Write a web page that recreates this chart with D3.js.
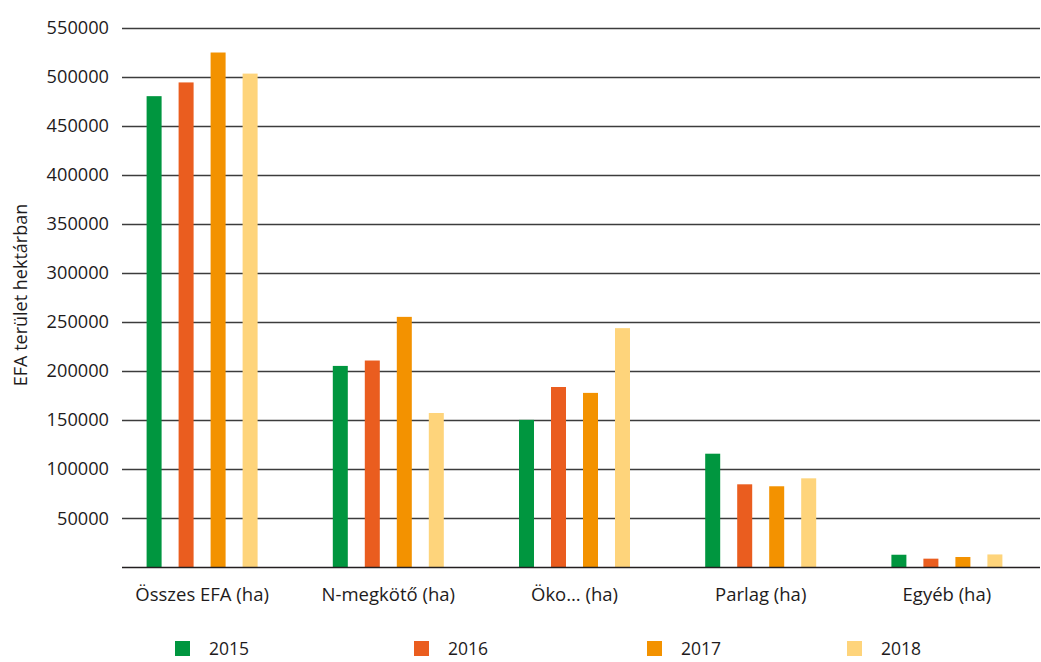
<!DOCTYPE html>
<html>
<head>
<meta charset="utf-8">
<script src="https://cdn.jsdelivr.net/npm/d3@7"></script>
<style>
  body { margin: 0; background: #fff; }
  text { font-family: "Open Sans", "Noto Sans", sans-serif; fill: #1e1b1c; }
</style>
</head>
<body>
<div id="chart-area"></div>
<script>
// Data
let categories = ["Összes EFA (ha)", "N-megkötő (ha)", "Öko… (ha)", "Parlag (ha)", "Egyéb (ha)"];
let years = ["2015", "2016", "2017", "2018"];
let values2015 = [480000, 205000, 150000, 115500, 12500];
let values2016 = [494000, 210500, 183500, 84300, 8500];
let values2017 = [524500, 255000, 177500, 82300, 10200];
let values2018 = [503000, 157000, 243500, 90400, 12800];
let yTicks = [50000, 100000, 150000, 200000, 250000, 300000, 350000, 400000, 450000, 500000, 550000];
let colors = ["#00963f", "#ea5d1f", "#f39200", "#fed47b"];

let series = [values2015, values2016, values2017, values2018];

let width = 1041, height = 662;

let svg = d3.select("#chart-area").append("svg")
    .attr("width", width)
    .attr("height", height);

// Scales
let y = d3.scaleLinear()
    .domain([0, 550000])
    .range([567, 27.5]);

let x0 = d3.scaleBand()
    .domain(categories)
    .range([109, 1040]);

let bw = x0.bandwidth();
let x1 = d3.scaleBand()
    .domain(years)
    .range([bw / 2 - 55.5, bw / 2 + 55.5])
    .paddingInner(17 / 32);

let color = d3.scaleOrdinal()
    .domain(years)
    .range(colors);

// Gridlines
svg.append("g")
    .selectAll("line")
    .data(yTicks)
    .enter().append("line")
    .attr("x1", 122)
    .attr("x2", 1040)
    .attr("y1", d => Math.round(y(d)) + 0.5)
    .attr("y2", d => Math.round(y(d)) + 0.5)
    .attr("stroke", "#3c3c3c")
    .attr("stroke-width", 1.3);

// Y tick labels
svg.append("g")
    .selectAll("text")
    .data(yTicks)
    .enter().append("text")
    .attr("x", 109)
    .attr("y", d => y(d))
    .attr("dy", "0.36em")
    .attr("text-anchor", "end")
    .attr("font-size", 18.2)
    .text(d => d);

// Bars
let groups = svg.append("g")
    .selectAll("g")
    .data(categories)
    .enter().append("g")
    .attr("transform", d => "translate(" + x0(d) + ",0)");

groups.selectAll("rect")
    .data((d, i) => years.map((yr, j) => ({year: yr, value: series[j][i]})))
    .enter().append("rect")
    .attr("x", d => x1(d.year))
    .attr("width", x1.bandwidth())
    .attr("y", d => y(d.value))
    .attr("height", d => y(0) - y(d.value))
    .attr("fill", d => color(d.year));

// X axis line
svg.append("line")
    .attr("x1", 122)
    .attr("x2", 1040)
    .attr("y1", 567.5)
    .attr("y2", 567.5)
    .attr("stroke", "#231f20")
    .attr("stroke-width", 1.3);

// Category labels
svg.append("g")
    .selectAll("text")
    .data(categories)
    .enter().append("text")
    .attr("x", d => x0(d) + bw / 2)
    .attr("y", 601)
    .attr("text-anchor", "middle")
    .attr("font-size", 18.5)
    .text(d => d);

// Y axis title
svg.append("text")
    .attr("transform", "translate(27,295) rotate(-90)")
    .attr("text-anchor", "middle")
    .attr("font-size", 18)
    .text("EFA terület hektárban");

// Legend
let legendX = [175, 414, 647, 847];
let legend = svg.append("g")
    .selectAll("g")
    .data(years)
    .enter().append("g")
    .attr("transform", (d, i) => "translate(" + legendX[i] + ",641)");

legend.append("rect")
    .attr("width", 15)
    .attr("height", 15)
    .attr("fill", d => color(d));

legend.append("text")
    .attr("x", 34)
    .attr("y", 14)
    .attr("font-size", 17.5)
    .text(d => d);
</script>
</body>
</html>
